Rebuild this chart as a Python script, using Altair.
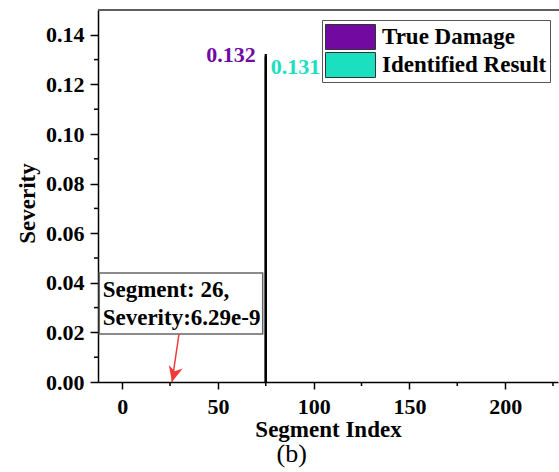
import altair as alt
import pandas as pd

# ---- data ----
series = ["True Damage", "Identified Result"]
series_colors = ["#7209A0", "#1AE0C0"]
damage_segment = [75, 75]
damage_severity = [0.132, 0.131]
note_segment = [26]
note_severity = [6.29e-9]
note_text = ["Segment: 26,\nSeverity:6.29e-9"]
x_ticks = [0, 50, 100, 150, 200]
x_minor = [25, 75, 125, 175, 225]
y_ticks = [0.00, 0.02, 0.04, 0.06, 0.08, 0.10, 0.12, 0.14]
y_minor = [0.01, 0.03, 0.05, 0.07, 0.09, 0.11, 0.13]

FONT = "'Times New Roman', 'Liberation Serif', serif"

bars_df = pd.DataFrame({"segment": damage_segment, "severity": damage_severity, "series": series})
note_df = pd.DataFrame({"segment": note_segment, "severity": note_severity, "label": note_text})
xminor_df = pd.DataFrame({"segment": x_minor})
yminor_df = pd.DataFrame({"severity": y_minor})

xscale = alt.Scale(domain=[-10, 225], nice=False, zero=False)
yscale = alt.Scale(domain=[0, 0.15], nice=False, zero=False)

color = alt.Color(
    "series:N",
    scale=alt.Scale(domain=series, range=series_colors),
    legend=alt.Legend(
        orient="none", legendX=224, legendY=10, title=None,
        symbolType="M-1,-0.5H1V0.5H-1Z", symbolSize=2500,
        symbolStrokeColor="#333", symbolStrokeWidth=1, symbolOpacity=1,
        labelFont=FONT, labelFontSize=23, labelFontWeight="bold", labelColor="black",
        labelOffset=6, labelLimit=400, clipHeight=28, rowPadding=0, padding=3,
        strokeColor="#555", fillColor="white",
    ),
)

bars = alt.Chart(bars_df).mark_bar(size=1, stroke="black", strokeWidth=1.3).encode(
    x=alt.X("segment:Q", scale=xscale, title="Segment Index",
            axis=alt.Axis(values=x_ticks, tickSize=7, labelPadding=24,
                          labelBaseline="alphabetic", titleBaseline="alphabetic",
                          titleY=54, labelOverlap=False, labelFlush=False)),
    y=alt.Y("severity:Q", scale=yscale, stack=None, title="Severity",
            axis=alt.Axis(values=y_ticks, format=".2f", tickSize=8, labelPadding=6,
                          titleX=-64, titleY=193, titleAlign="center",
                          titleBaseline="alphabetic", labelOverlap=False)),
    color=color,
)

lbl_true = alt.Chart(bars_df).transform_filter(
    alt.datum.series == series[0]
).mark_text(align="right", baseline="middle", dx=-10, dy=0, font=FONT,
            fontSize=22, fontWeight="bold", color=series_colors[0]).encode(
    x="segment:Q", y="severity:Q", text=alt.Text("severity:Q", format=".3f"))

lbl_ident = alt.Chart(bars_df).transform_filter(
    alt.datum.series == series[1]
).mark_text(align="left", baseline="middle", dx=5, dy=10, font=FONT,
            fontSize=22, fontWeight="bold", color=series_colors[1]).encode(
    x="segment:Q", y="severity:Q", text=alt.Text("severity:Q", format=".3f"))

xminor = alt.Chart(xminor_df).mark_rule(color="black", strokeWidth=1.5).encode(
    x="segment:Q", y=alt.value(372), y2=alt.value(376))
yminor = alt.Chart(yminor_df).mark_rule(color="black", strokeWidth=1.5).encode(
    y="severity:Q", x=alt.value(-4), x2=alt.value(0))

top_line = alt.Chart(bars_df).mark_rule(color="#555", strokeWidth=1.5).encode(
    x=alt.value(0), x2=alt.value(461), y=alt.value(0))

note_box = alt.Chart(note_df).mark_rect(fill="white", stroke="#666", strokeWidth=1.5).encode(
    x=alt.value(1.3), x2=alt.value(164.7), y=alt.value(263), y2=alt.value(324))
note_txt = alt.Chart(note_df).mark_text(
    align="left", baseline="alphabetic", lineBreak="\n", lineHeight=28,
    font=FONT, fontSize=23, fontWeight="bold", color="black").encode(
    x=alt.value(4.7), y=alt.value(287), text="label:N")

arrow_line = alt.Chart(note_df).mark_rule(color="#F03A3A", strokeWidth=1.5).encode(
    x="segment:Q", y="severity:Q", x2=alt.value(81), y2=alt.value(324))
arrow_head = alt.Chart(note_df).mark_point(
    shape="M0,0L-0.45,-1L0,-0.7L0.45,-1Z", size=1000, filled=True,
    color="#F03A3A", opacity=1, angle=14).encode(x="segment:Q", y="severity:Q")

caption = alt.Chart(note_df).mark_text(
    text="(b)", align="center", baseline="alphabetic", font=FONT, fontSize=26,
    color="black").encode(x=alt.value(193.7), y=alt.value(452))

chart = alt.layer(
    bars, top_line, xminor, yminor, note_box, note_txt, arrow_line, arrow_head,
    lbl_true, lbl_ident, caption,
).properties(
    width=460, height=372,
    padding={"left": 98, "top": 10, "right": 1, "bottom": 90},
    autosize=alt.AutoSizeParams(type="none"),
    background="white",
).configure_view(stroke=None).configure_axis(
    grid=False, domainColor="black", domainWidth=1.5, tickColor="black", tickWidth=1.5,
    labelFont=FONT, labelFontSize=22, labelFontWeight="bold", labelColor="black",
    titleFont=FONT, titleFontSize=23, titleFontWeight="bold", titleColor="black",
)

chart.save("out.html", embed_options={"renderer": "svg", "actions": False})
